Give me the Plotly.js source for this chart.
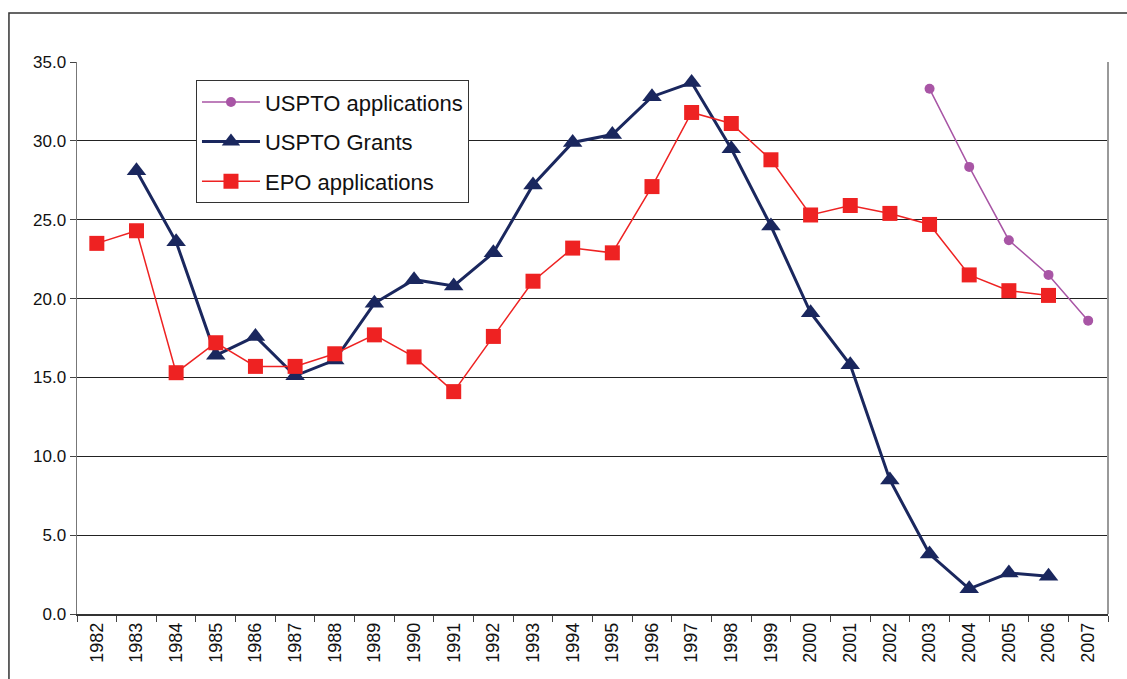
<!DOCTYPE html>
<html><head><meta charset="utf-8">
<script src="https://cdn.plot.ly/plotly-3.0.1.min.js"></script>
<style>body{margin:0;background:#fff}#c{width:1127px;height:679px}</style>
</head><body><div id="c"></div>
<script>
var years = ['1982','1983','1984','1985','1986','1987','1988','1989','1990','1991','1992','1993','1994','1995','1996','1997','1998','1999','2000','2001','2002','2003','2004','2005','2006','2007'];
var usptoApplications = [null,null,null,null,null,null,null,null,null,null,null,null,null,null,null,null,null,null,null,null,null,33.3,28.35,23.7,21.5,18.6];
var usptoGrants = [null,28.1,23.6,16.4,17.6,15.1,16.1,19.7,21.2,20.8,22.9,27.2,29.9,30.4,32.8,33.7,29.5,24.6,19.1,15.8,8.5,3.8,1.6,2.6,2.4,null];
var epoApplications = [23.5,24.3,15.3,17.2,15.7,15.7,16.5,17.7,16.3,14.1,17.6,21.1,23.2,22.9,27.1,31.8,31.1,28.8,25.3,25.9,25.4,24.7,21.5,20.5,20.2,null];
var yTicks = [0,5,10,15,20,25,30,35];

var traces = [
 {x:years,y:usptoApplications,name:'USPTO applications',type:'scatter',mode:'lines+markers',legendgroup:'a',
  line:{color:'#a855a5',width:1.5},marker:{symbol:'circle',size:10,color:'#a855a5'}},
 {x:years,y:usptoGrants,name:'USPTO Grants',type:'scatter',mode:'lines+markers',legendgroup:'b',
  line:{color:'#1a275e',width:3},marker:{symbol:'triangle-up',size:17,color:'#1a275e'}},
 {x:years,y:epoApplications,name:'EPO applications',type:'scatter',mode:'lines+markers',legendgroup:'c',
  line:{color:'#ee2222',width:1.5},marker:{symbol:'square',size:15,color:'#ee2222'}}
];
var layout = {
 width:1127,height:679,
 margin:{l:77,r:19,t:62,b:65},
 paper_bgcolor:'#fff',plot_bgcolor:'#fff',
 font:{family:'Liberation Sans, Arial, sans-serif',color:'#111'},
 showlegend:true,
 legend:{x:0.1154,y:0.967,xanchor:'left',yanchor:'top',bgcolor:'#fff',bordercolor:'#333',borderwidth:1,
   font:{size:22,color:'#111'},traceorder:'grouped',tracegroupgap:8,itemwidth:58},
 xaxis:{type:'category',range:[-0.5,25.5],tickangle:-90,tickfont:{size:18},showgrid:false,
   ticks:'outside',ticklen:6,tickcolor:'#444',tickson:'boundaries',showline:true,linecolor:'#333',linewidth:1.5,zeroline:false,fixedrange:true},
 yaxis:{range:[0,35],tickvals:yTicks,tickformat:'.1f',tickfont:{size:17},showgrid:true,gridcolor:'#222',gridwidth:1,
   ticks:'outside',ticklen:6,tickcolor:'#444',showline:true,linecolor:'#777',linewidth:1.5,zeroline:false,fixedrange:true},
 shapes:[
  {type:'line',xref:'paper',yref:'paper',x0:1,x1:1,y0:0,y1:1,line:{color:'#999',width:2}},
  {type:'rect',xref:'paper',yref:'paper',x0:-0.0660,x1:1.05,y0:-0.2,y1:1.0888,line:{color:'#333',width:1.5},fillcolor:'rgba(0,0,0,0)'}
 ]
};
Plotly.newPlot('c',traces,layout,{displayModeBar:false,staticPlot:true});
</script></body></html>
